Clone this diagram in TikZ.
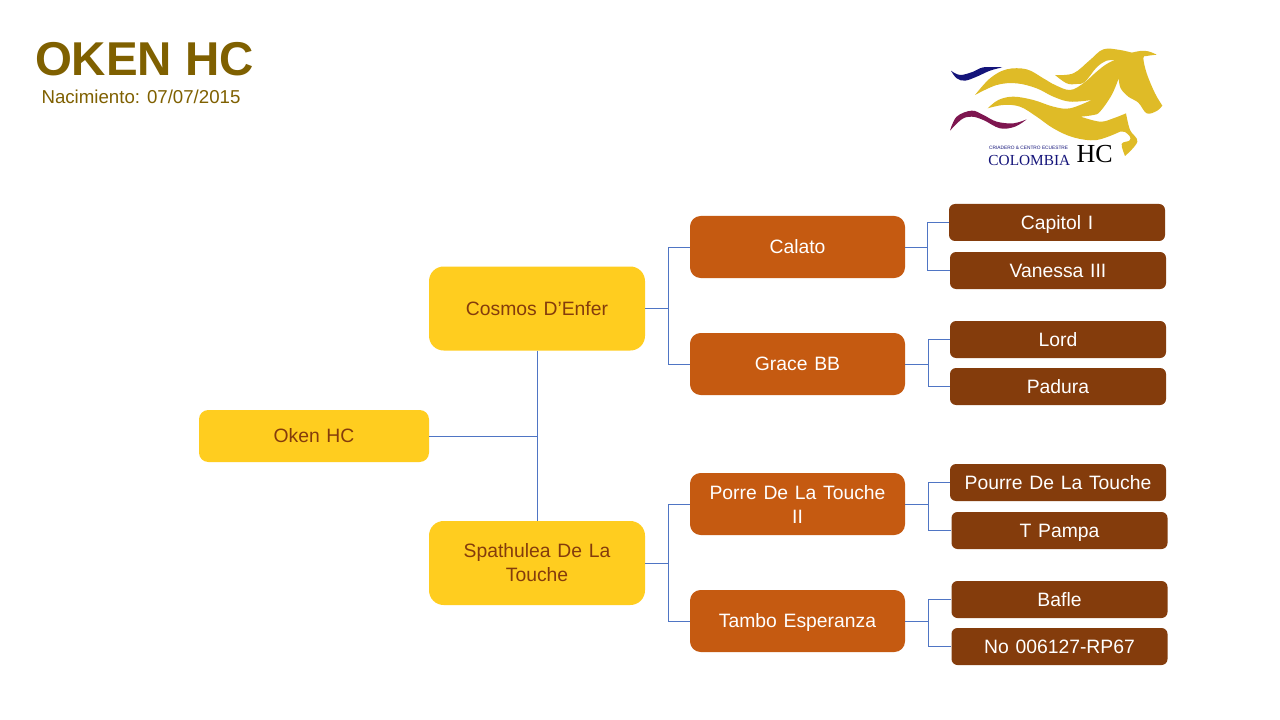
\documentclass[tikz,border=0pt]{standalone}
\usepackage{fontspec}
\setmainfont{Liberation Sans}
\newfontfamily\labelfont[WordSpace=1.25]{Liberation Sans}
\newfontfamily\logoserif{Liberation Serif}
\definecolor{gold}{HTML}{FFCD1F}
\definecolor{rust}{HTML}{C55A11}
\definecolor{bark}{HTML}{843C0C}
\definecolor{olive}{HTML}{7F6000}
\definecolor{wire}{HTML}{4F75C4}
\definecolor{mane}{HTML}{DFBB27}
\definecolor{navy}{HTML}{14147A}
\definecolor{plum}{HTML}{7E1650}
% fixed line extent, so that one-line labels sit at the same height in their boxes
\newcommand{\labelstrut}{\rule[-3.6pt]{0pt}{17.6pt}}
\tikzset{
  box/.style={inner sep=0pt,align=center,font=\labelfont\fontsize{14.5}{18}\selectfont},
  oneline/.style={execute at begin node=\labelstrut,execute at end node=\labelstrut},
  rootbox/.style={box,fill=gold,text=bark,rounded corners=7pt,minimum width=172.5pt,minimum height=39pt},
  sirebox/.style={box,fill=gold,text=bark,rounded corners=11pt,minimum width=162pt,minimum height=63pt},
  grandbox/.style={box,fill=rust,text=white,rounded corners=8pt,minimum width=161.25pt,minimum height=46.5pt},
  greatbox/.style={box,fill=bark,text=white,rounded corners=4.5pt,minimum width=162pt,minimum height=27.75pt},
  wireline/.style={draw=wire,line width=0.7pt},
  curve/.style={smooth,tension=0.6},
}
\begin{document}
\begin{tikzpicture}[x=0.75pt,y=-0.75pt]
\useasboundingbox (0,0) rectangle (1280,720);
\fill[white] (0,0) rectangle (1280,720);

% heading
\node[anchor=center,inner sep=0pt,text=olive,font=\fontsize{35.6}{40}\selectfont\bfseries] (title) at (144.5,59) {OKEN HC};
\node[anchor=center,inner sep=0pt,text=olive,font=\fontsize{14}{18}\selectfont] (birth) at (141,97) {Nacimiento: 07/07/2015};

% pedigree boxes
\node[rootbox,oneline] (oken) at (314,436) {Oken HC};
\node[sirebox,oneline] (cosmos) at (537,308.5) {Cosmos D’Enfer};
\node[sirebox] (spath) at (537,563) {Spathulea De La\\Touche};
\node[grandbox,oneline] (calato) at (797.5,247) {Calato};
\node[grandbox,oneline] (grace) at (797.5,364) {Grace BB};
\node[grandbox] (porre) at (797.5,504) {Porre De La Touche\\II};
\node[grandbox,oneline] (tambo) at (797.5,621) {Tambo Esperanza};
\node[greatbox,oneline] (capitol) at (1057,222.5) {Capitol I};
\node[greatbox,oneline] (vanessa) at (1058,270.5) {Vanessa III};
\node[greatbox,oneline] (lord) at (1058,339.5) {Lord};
\node[greatbox,oneline] (padura) at (1058,386.5) {Padura};
\node[greatbox,oneline] (pourre) at (1058,482.5) {Pourre De La Touche};
\node[greatbox,oneline] (pampa) at (1059.5,530.5) {T Pampa};
\node[greatbox,oneline] (bafle) at (1059.5,599.5) {Bafle};
\node[greatbox,oneline] (rp) at (1059.5,646.5) {No 006127-RP67};

% branching points of the connectors
\coordinate (busA) at (668,308.5);
\coordinate (busB) at (668,563);
\coordinate (busC) at (927,247);
\coordinate (busD) at (928,364);
\coordinate (busE) at (928,504);
\coordinate (busF) at (928,621);

% connectors
\draw[wireline] (cosmos.south) -- (spath.north);
\draw[wireline] (oken.east) -- (oken.east -| cosmos.south);
\draw[wireline] (cosmos.east) -- (busA);
\draw[wireline] (calato.west) -| (busA) |- (grace.west);
\draw[wireline] (spath.east) -- (busB);
\draw[wireline] (porre.west) -| (busB) |- (tambo.west);
\draw[wireline] (calato.east) -- (busC);
\draw[wireline] (capitol.west) -| (busC) |- (vanessa.west);
\draw[wireline] (grace.east) -- (busD);
\draw[wireline] (lord.west) -| (busD) |- (padura.west);
\draw[wireline] (porre.east) -- (busE);
\draw[wireline] (pourre.west) -| (busE) |- (pampa.west);
\draw[wireline] (tambo.east) -- (busF);
\draw[wireline] (bafle.west) -| (busF) |- (rp.west);

% running-horse emblem
\begin{scope}[shift={(930,30)},x=0.25pt,y=-0.25pt]
  % small ribbons
  \fill[navy] plot[curve] coordinates {(63,122)(90,135)(130,125)(160,112)(217,112)}
     -- plot[curve] coordinates {(217,112)(180,122)(140,140)(105,152)(80,145)(63,122)} -- cycle;
  \fill[plum] plot[curve] coordinates {(60,302)(80,260)(125,242)(160,255)(200,275)(250,280)(290,268)}
     -- plot[curve] coordinates {(290,268)(255,290)(210,295)(160,270)(125,260)(95,268)(60,302)} -- cycle;
  % flames, neck, head and leg
  \fill[mane]
     plot[curve] coordinates {(135,195)(180,145)(230,118)(290,118)(340,145)(375,165)(420,180)(460,160)(500,125)(530,102)(565,85)(600,70)(630,63)(655,64)(680,74)}
     -- plot[curve] coordinates {(680,74)(650,78)(640,84)(650,130)(675,190)(697,227)}
     -- plot[curve] coordinates {(697,227)(680,243)(650,250)(625,218)(595,200)(572,175)(566,145)}
     -- plot[curve] coordinates {(566,145)(545,195)(510,245)(490,255)(452,260)}
     -- plot[curve] coordinates {(452,260)(510,275)(550,265)(588,250)}
     -- plot[curve] coordinates {(588,250)(600,300)(622,335)(585,378)}
     -- plot[curve] coordinates {(585,378)(575,342)(598,332)(600,320)(585,306)(570,305)}
     -- plot[curve] coordinates {(570,305)(500,330)(430,322)(370,295)(320,260)(270,230)(220,225)(173,235)}
     -- plot[curve] coordinates {(173,235)(205,210)(250,200)(310,210)(370,230)(420,235)(485,210)}
     -- plot[curve] coordinates {(485,210)(420,215)(370,200)(320,175)(260,160)(200,165)(135,195)}
     -- cycle;
  % mane lock
  \fill[mane]
     plot[curve] coordinates {(375,135)(430,130)(480,90)(520,58)(570,60)(620,72)}
     -- plot[curve] coordinates {(620,72)(590,84)(555,90)(530,92)(500,112)(465,155)(440,162)(410,160)(375,135)}
     -- cycle;
  % lettering
  \node[inner sep=0pt,text=navy,font=\fontsize{3.6}{4}\selectfont] (farm) at (296,353) {CRIADERO \& CENTRO ECUESTRE};
  \node[inner sep=0pt,text=navy,font=\logoserif\fontsize{11.5}{12}\selectfont] (country) at (298,391) {COLOMBIA};
  \node[inner sep=0pt,text=black,font=\logoserif\fontsize{19.5}{22}\selectfont] (brand) at (494,372) {HC};
\end{scope}
\end{tikzpicture}
\end{document}
